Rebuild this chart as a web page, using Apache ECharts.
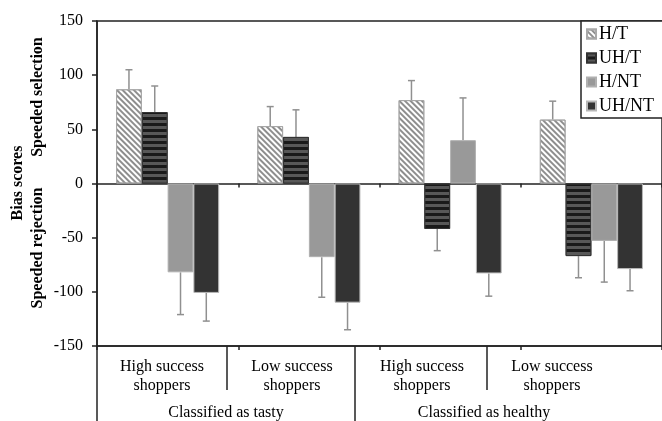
<!DOCTYPE html>
<html><head><meta charset="utf-8">
<script src="https://cdn.jsdelivr.net/npm/echarts@6/dist/echarts.min.js"></script>
<style>html,body{margin:0;padding:0;background:#fff}#c{width:662px;height:421px}</style>
</head><body><div id="c"></div>
<script>
// ---- data ----
const catKeys = ['Tasty-High', 'Tasty-Low', 'Healthy-High', 'Healthy-Low'];
const groupLabels = ['High success\nshoppers', 'Low success\nshoppers', 'High success\nshoppers', 'Low success\nshoppers'];
const classLabels = ['Classified as tasty', 'Classified as healthy'];
const seriesNames = ['H/T', 'UH/T', 'H/NT', 'UH/NT'];
const valHT   = [87, 53, 77, 59];
const valUHT  = [66, 43, -42, -67];
const valHNT  = [-82, -68, 40, -53];
const valUHNT = [-101, -110, -83, -79];
const errHT   = [18, 18, 18, 17];
const errUHT  = [24, 25, 20, 20];
const errHNT  = [39, 37, 39, 38];
const errUHNT = [26, 25, 21, 20];
const yMin = -150, yMax = 150, yStep = 50;

// ---- styling ----
const FONT = "'Liberation Serif', 'Times New Roman', serif";
const AX = '#222';
const GAP = 0.27;
const vals = [valHT, valUHT, valHNT, valUHNT];
const errs = [errHT, errUHT, errHNT, errUHNT];
const styles = [
  {color: '#ffffff', borderColor: '#a8a8a8', borderWidth: 1,
   decal: {symbol: 'rect', symbolSize: 1, dashArrayX: [1, 0], dashArrayY: [2, 2], rotation: Math.PI / 4, color: '#8e8e8e'}},
  {color: '#1a1a1a', borderColor: '#333', borderWidth: 1,
   decal: {symbol: 'rect', symbolSize: 1, dashArrayX: [1, 0], dashArrayY: [3, 3], rotation: 0, color: '#585858'}},
  {color: '#999999', borderColor: '#b0b0b0', borderWidth: 1},
  {color: '#333333', borderColor: '#b8b8b8', borderWidth: 1}
];

const errData = [];
vals.forEach((arr, s) => arr.forEach((v, i) => errData.push([i, v, errs[s][i], s])));

const chart = echarts.init(document.getElementById('c'), null, {renderer: 'canvas'});
chart.setOption({
  animation: false,
  aria: {enabled: false},
  textStyle: {fontFamily: FONT},
  legend: {
    orient: 'vertical', left: 581, top: 21, z: 20,
    padding: [4, 5, 5, 5], itemGap: 6, itemWidth: 9, itemHeight: 9,
    borderWidth: 0,
    data: seriesNames.map(n => ({name: n, icon: 'rect'})),
    textStyle: {fontFamily: FONT, fontSize: 18, lineHeight: 18, color: '#000', padding: [0, 0, 0, -2]}
  },
  grid: [
    {left: 97, top: 21, width: 572, height: 325, show: true, borderColor: AX, borderWidth: 1.5, containLabel: false},
    {left: 97, top: 346, width: 520, height: 1, containLabel: false},
    {left: 97, top: 346, width: 516, height: 1, containLabel: false}
  ],
  xAxis: [
    {type: 'category', gridIndex: 0, data: catKeys,
     axisLine: {onZero: true, lineStyle: {color: AX, width: 1.5}},
     axisTick: {show: true, length: 4, lineStyle: {color: AX, width: 1.5}},
     axisLabel: {show: false}},
    {type: 'category', gridIndex: 0, position: 'bottom', data: catKeys,
     axisLine: {onZero: false, lineStyle: {color: AX, width: 1.5}},
     axisTick: {show: true, length: 4, lineStyle: {color: AX, width: 1.5}},
     axisLabel: {show: false}},
    {type: 'category', gridIndex: 1, data: groupLabels,
     axisLine: {show: false}, axisTick: {show: false},
     axisLabel: {interval: 0, margin: 10, fontFamily: FONT, fontSize: 16, lineHeight: 19, color: '#000'}},
    {type: 'category', gridIndex: 2, data: classLabels,
     axisLine: {show: false}, axisTick: {show: false},
     axisLabel: {interval: 0, margin: 57, fontFamily: FONT, fontSize: 16, lineHeight: 19, color: '#000'}}
  ],
  yAxis: [
    {type: 'value', gridIndex: 0, min: yMin, max: yMax, interval: yStep,
     axisLine: {show: true, lineStyle: {color: AX, width: 1.5}},
     axisTick: {show: true, length: 5, lineStyle: {color: AX, width: 1.5}},
     splitLine: {show: false},
     axisLabel: {margin: 14, fontFamily: FONT, fontSize: 16, color: '#000'}},
    {type: 'value', gridIndex: 1, show: false},
    {type: 'value', gridIndex: 2, show: false}
  ],
  series: seriesNames.map((n, s) => ({
    name: n, type: 'bar', xAxisIndex: 0, yAxisIndex: 0,
    barGap: '0%', barCategoryGap: (GAP * 100) + '%',
    itemStyle: styles[s], emphasis: {disabled: true},
    data: vals[s], z: 3
  })).concat([{
    name: 'err', type: 'custom', xAxisIndex: 0, yAxisIndex: 0, z: 2,
    encode: {x: 0, y: 1},
    data: errData,
    renderItem: function (params, api) {
      const cat = api.value(0), v = api.value(1), e = api.value(2), s = api.value(3);
      const band = api.size([1, 0])[0];
      const bw = band * (1 - GAP) / 4;
      const p0 = api.coord([cat, v]);
      const x = p0[0] - 2 * bw + bw * (s + 0.5);
      const end = v >= 0 ? v + e : v - e;
      const p1 = api.coord([cat, end]);
      const st = {stroke: '#909090', lineWidth: 1.5};
      return {type: 'group', children: [
        {type: 'line', shape: {x1: x, y1: p0[1], x2: x, y2: p1[1]}, style: st},
        {type: 'line', shape: {x1: x - 3.5, y1: p1[1], x2: x + 3.5, y2: p1[1]}, style: st}
      ]};
    }
  }]),
  graphic: [
    {type: 'rect', shape: {x: 581, y: 21, width: 120, height: 97}, z: 5,
     style: {fill: '#fff', stroke: AX, lineWidth: 1.5}},
    {type: 'text', x: 18, y: 183, rotation: Math.PI / 2,
     style: {text: 'Bias scores', font: "bold 16px " + FONT, fill: '#000', align: 'center', verticalAlign: 'middle'}},
    {type: 'text', x: 38, y: 97, rotation: Math.PI / 2,
     style: {text: 'Speeded selection', font: "bold 16px " + FONT, fill: '#000', align: 'center', verticalAlign: 'middle'}},
    {type: 'text', x: 38, y: 248, rotation: Math.PI / 2,
     style: {text: 'Speeded rejection', font: "bold 16px " + FONT, fill: '#000', align: 'center', verticalAlign: 'middle'}},
    {type: 'line', shape: {x1: 97, y1: 346, x2: 97, y2: 421}, style: {stroke: AX, lineWidth: 1.5}},
    {type: 'line', shape: {x1: 355, y1: 346, x2: 355, y2: 421}, style: {stroke: AX, lineWidth: 1.5}},
    {type: 'line', shape: {x1: 227, y1: 346, x2: 227, y2: 390}, style: {stroke: AX, lineWidth: 1.5}},
    {type: 'line', shape: {x1: 487, y1: 346, x2: 487, y2: 390}, style: {stroke: AX, lineWidth: 1.5}}
  ]
});
</script></body></html>
